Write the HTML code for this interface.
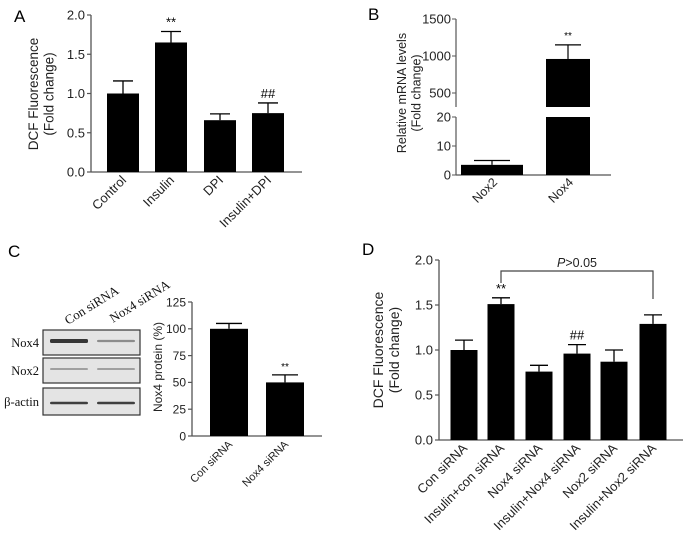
<!DOCTYPE html>
<html><head><meta charset="utf-8"><style>
html,body{margin:0;padding:0;background:#fff}
svg{display:block;font-family:"Liberation Sans",Arial,sans-serif}
.serif{font-family:"Liberation Serif","Times New Roman",serif}
</style></head><body>
<svg id="fig" width="684" height="536" viewBox="0 0 684 536">
<g id="A"></g>
<g id="B"></g>
<g id="C"></g>
<g id="D"></g>
</svg>
<script>
// Panel A data
const aCats = ["Control","Insulin","DPI","Insulin+DPI"];
const aVals = [1.0,1.65,0.66,0.75];
const aErrs = [0.16,0.14,0.08,0.13];
const aMarks = ["","**","","##"];
const aTicks = ["0.0","0.5","1.0","1.5","2.0"];
// Panel B data
const bCats = ["Nox2","Nox4"];
const bVals = [3.5,960];
const bErrs = [1.5,190];
const bLowTicks = [0,10,20];
const bHighTicks = [500,1000,1500];
// Panel C data
const cCats = ["Con siRNA","Nox4 siRNA"];
const cVals = [100,50];
const cErrs = [5,7];
const cTicks = [0,25,50,75,100,125];
// Panel D data
const dCats = ["Con siRNA","Insulin+con siRNA","Nox4 siRNA","Insulin+Nox4 siRNA","Nox2 siRNA","Insulin+Nox2 siRNA"];
const dVals = [1.0,1.51,0.76,0.96,0.87,1.29];
const dErrs = [0.11,0.07,0.07,0.10,0.13,0.10];
const dMarks = ["","**","","##","",""];
const dTicks = ["0.0","0.5","1.0","1.5","2.0"];

const NS="http://www.w3.org/2000/svg";
function mk(parent,tag,attrs,text){const e=document.createElementNS(NS,tag);for(const k in attrs)e.setAttribute(k,attrs[k]);if(text!==undefined)e.textContent=text;parent.appendChild(e);return e;}
const AX="#555";

function barChart(g,o){
  const y=v=>o.y0-(v/o.vmax)*(o.y0-o.yTop);
  let e=mk(g,"line",{x1:o.x0,y1:o.yTop,x2:o.x0,y2:o.y0,stroke:AX,"stroke-width":1.3});
  
  
  e=mk(g,"line",{x1:o.x0,y1:o.y0,x2:o.x1,y2:o.y0,stroke:AX,"stroke-width":1.3});
  
  
  o.ticks.forEach(t=>{const v=parseFloat(t);const yy=y(v);
    let l=mk(g,"line",{x1:o.x0-4,y1:yy,x2:o.x0,y2:yy,stroke:AX,"stroke-width":1.2});
    
    
    let tx=mk(g,"text",{x:o.x0-6,y:yy+o.fs*0.36,"text-anchor":"end","font-size":o.fs,fill:"#222"},t);
    
    
  });
  o.vals.forEach((v,i)=>{const cx=o.centers[i];
    const top=y(v),et=y(v+o.errs[i]);
    let ln=mk(g,"line",{x1:cx,y1:top,x2:cx,y2:et,stroke:"#000","stroke-width":1.3});
    
    
    let cap=mk(g,"line",{x1:cx-o.cap,y1:et,x2:cx+o.cap,y2:et,stroke:"#000","stroke-width":1.3});
    
    
    let r=mk(g,"rect",{x:cx-o.width/2,y:top,width:o.width,height:o.y0-top,fill:"#000"});
    
    
    if(o.marks&&o.marks[i]){let m=mk(g,"text",{x:cx,y:et-5,"text-anchor":"middle","font-size":o.markFs||12},o.marks[i]);
      
      }
    if(o.labelFs){const lx=cx+4,ly=o.y0+9;
      let t=mk(g,"text",{x:lx,y:ly,"text-anchor":"end","font-size":o.labelFs,fill:"#222",transform:`rotate(-45 ${lx} ${ly})`},o.cats[i]);
      
      }
  });
  return y;
}
function ytitle(g,x,cy,lines,fs){lines.forEach((s,i)=>{const xx=x+i*fs*1.15;
  let t=mk(g,"text",{x:xx,y:cy,"text-anchor":"middle","font-size":fs,fill:"#222",transform:`rotate(-90 ${xx} ${cy})`},s);
  
  });}
function plabel(g,x,y,s){let t=mk(g,"text",{x:x,y:y,"font-size":17,fill:"#000"},s);
  
  }

// ---- A
const gA=document.getElementById("A");
plabel(gA,14,22,"A");
barChart(gA,{x0:91,x1:302,y0:172,yTop:15,vmax:2,centers:[123,171,220,268],width:32,cap:10,vals:aVals,errs:aErrs,ticks:aTicks,fs:13,cats:aCats,marks:aMarks,labelFs:13,markFs:13});
ytitle(gA,38,94,["DCF Fluorescence","(Fold change)"],13.5);

// ---- B
const gB=document.getElementById("B");
plabel(gB,368,20,"B");
(function(){
  const x0=456,x1=611,y0=175,yLowTop=117,lowMax=20,yHighBot=107,y500=93,y1000=56;
  const yl=v=>y0-(v/lowMax)*(y0-yLowTop);
  const pxPer=(y500-y1000)/500;
  const yh=v=>y500-(v-500)*pxPer;
  const centers=[492,568],w=[62,44];
  let e=mk(gB,"line",{x1:x0,y1:yLowTop,x2:x0,y2:y0,stroke:AX,"stroke-width":1.2});
  
  
  e=mk(gB,"line",{x1:x0,y1:yh(1500),x2:x0,y2:yHighBot,stroke:AX,"stroke-width":1.2});
  
  
  e=mk(gB,"line",{x1:x0,y1:y0,x2:x1,y2:y0,stroke:AX,"stroke-width":1.2});
  
  
  bLowTicks.forEach(t=>{const yy=yl(t);
    let l=mk(gB,"line",{x1:x0-4,y1:yy,x2:x0,y2:yy,stroke:AX});
    
    
    let tx=mk(gB,"text",{x:x0-5,y:yy+4.5,"text-anchor":"end","font-size":13,fill:"#222"},String(t));
    
    });
  bHighTicks.forEach(t=>{const yy=yh(t);
    let l=mk(gB,"line",{x1:x0-4,y1:yy,x2:x0,y2:yy,stroke:AX});
    
    
    let tx=mk(gB,"text",{x:x0-5,y:yy+4.5,"text-anchor":"end","font-size":13,fill:"#222"},String(t));
    
    });
  bVals.forEach((v,i)=>{const cx=centers[i],hw=w[i]/2;
    if(v<=lowMax){
      const top=yl(v),et=yl(v+bErrs[i]);
      let l=mk(gB,"line",{x1:cx,y1:top,x2:cx,y2:et,stroke:"#000","stroke-width":1.2});
      
      
      l=mk(gB,"line",{x1:cx-18,y1:et,x2:cx+18,y2:et,stroke:"#000","stroke-width":1.2});
      
      
      let r=mk(gB,"rect",{x:cx-hw,y:top,width:w[i],height:y0-top,fill:"#000"});
      
      
    } else {
      let r=mk(gB,"rect",{x:cx-hw,y:yLowTop,width:w[i],height:y0-yLowTop,fill:"#000"});
      
      
      const top=yh(v),et=yh(v+bErrs[i]);
      let l=mk(gB,"line",{x1:cx,y1:top,x2:cx,y2:et,stroke:"#000","stroke-width":1.2});
      
      
      l=mk(gB,"line",{x1:cx-13,y1:et,x2:cx+13,y2:et,stroke:"#000","stroke-width":1.2});
      
      
      r=mk(gB,"rect",{x:cx-hw,y:top,width:w[i],height:yHighBot-top,fill:"#000"});
      
      
      let m=mk(gB,"text",{x:cx,y:et-6,"text-anchor":"middle","font-size":10},"**");
      
      
    }
    const lx=cx+6,ly=y0+8;
    let t=mk(gB,"text",{x:lx,y:ly,"text-anchor":"end","font-size":12.5,fill:"#222",transform:`rotate(-45 ${lx} ${ly})`},bCats[i]);
    
    
  });
  ytitle(gB,406,93,["Relative mRNA levels","(Fold change)"],12.5);
})();

// ---- C
const gC=document.getElementById("C");
plabel(gC,8,257,"C");
(function(){
  const boxes=[[330,355,"Nox4"],[358,383,"Nox2"],[388,415,"β-actin"]];
  boxes.forEach((b,i)=>{
    let r=mk(gC,"rect",{x:43,y:b[0],width:97,height:b[1]-b[0],fill:"#e4e4e4",stroke:"#333","stroke-width":1.2});
    
    
    let t=mk(gC,"text",{x:39,y:(b[0]+b[1])/2+4.5,"text-anchor":"end","font-size":12.5,"class":"serif",fill:"#111"},b[2]);
    
    
  });
  const bands=[[341,[4,2.2],[0.9,0.45]],[369,[2,2],[0.35,0.35]],[403,[2.5,2.5],[0.85,0.85]]];
  bands.forEach(b=>{
    [[50,88],[97,135]].forEach((xs,j)=>{
      let e=mk(gC,"rect",{x:xs[0],y:b[0]-b[1][j]/2,width:xs[1]-xs[0],height:b[1][j],rx:1.5,fill:"#222","fill-opacity":b[2][j]});
      
      
    });
  });
  [["Con siRNA",68,325],["Nox4 siRNA",113,323]].forEach(c=>{
    let t=mk(gC,"text",{x:c[1],y:c[2],"font-size":13,"class":"serif",fill:"#111",transform:`rotate(-32 ${c[1]} ${c[2]})`},c[0]);
    
    
  });
  barChart(gC,{x0:192,x1:322,y0:436,yTop:302,vmax:125,centers:[229,285],width:38,cap:13,vals:cVals,errs:cErrs,ticks:cTicks.map(String),fs:12,cats:cCats,marks:["","**"],labelFs:11,markFs:10});
  ytitle(gC,162,367,["Nox4 protein (%)"],12);
})();

// ---- D
const gD=document.getElementById("D");
plabel(gD,362,255,"D");
(function(){
  const centers=[464,501,539,577,614,653];
  barChart(gD,{x0:439,x1:683,y0:440,yTop:260,vmax:2,centers:centers,width:27,cap:9,vals:dVals,errs:dErrs,ticks:dTicks,fs:13,cats:dCats,marks:dMarks,labelFs:13,markFs:13});
  const by=271;
  let p=mk(gD,"path",{d:`M${centers[1]} 283 V${by} H${centers[5]} V299`,fill:"none",stroke:"#444","stroke-width":1.2});
  
  
  let t=mk(gD,"text",{x:577,y:267,"text-anchor":"middle","font-size":12.5,fill:"#222"});
  
  
  mk(t,"tspan",{"font-style":"italic"},"P");
  mk(t,"tspan",{},">0.05");
  ytitle(gD,383,350,["DCF Fluorescence","(Fold change)"],14);
})();
</script>
</body></html>
